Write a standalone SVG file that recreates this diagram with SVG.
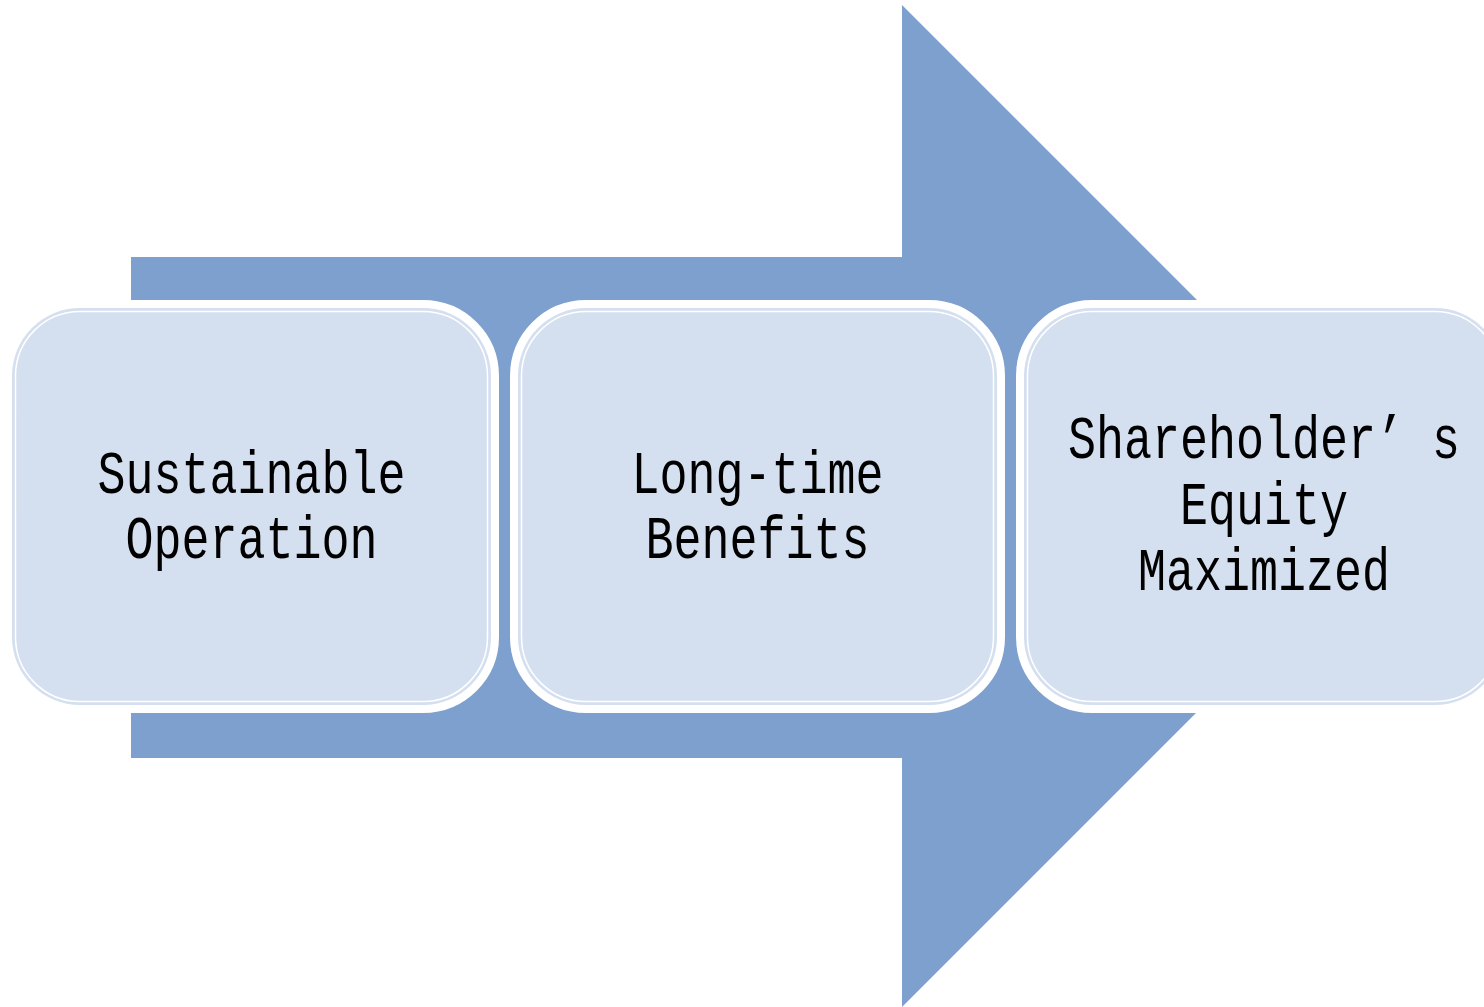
<svg xmlns="http://www.w3.org/2000/svg" width="1484" height="1007" viewBox="0 0 1484 1007">
<style>
.box{fill:#D4DFEF;stroke:#FFFFFF;stroke-width:16;paint-order:stroke}
.inner{fill:none;stroke:#FFFFFF;stroke-width:1.5}
.lbl{font-family:"Liberation Mono","DejaVu Sans Mono",monospace;font-size:62px;fill:#000000;text-anchor:middle}
</style>
<rect width="1484" height="1007" fill="#FFFFFF"/>
<g id="connectors">
<polygon points="131,257 902,257 902,5 1403,506 902,1007 902,758 131,758" fill="#7EA0CF"/>
</g>
<g id="node1">
<rect class="box" x="12" y="308" width="479" height="397" rx="68" ry="68"/>
<rect class="inner" x="15.5" y="311.5" width="472" height="390" rx="64.5" ry="64.5"/>
<text class="lbl" transform="translate(251.5,493) scale(0.7527,1)">Sustainable</text>
<text class="lbl" transform="translate(251.5,558) scale(0.7527,1)">Operation</text>
</g>
<g id="node2">
<rect class="box" x="518" y="308" width="479" height="397" rx="68" ry="68"/>
<rect class="inner" x="521.5" y="311.5" width="472" height="390" rx="64.5" ry="64.5"/>
<text class="lbl" transform="translate(757.5,493) scale(0.7527,1)">Long-time</text>
<text class="lbl" transform="translate(757.5,558) scale(0.7527,1)">Benefits</text>
</g>
<g id="node3">
<rect class="box" x="1024" y="308" width="479" height="397" rx="68" ry="68"/>
<rect class="inner" x="1027.5" y="311.5" width="472" height="390" rx="64.5" ry="64.5"/>
<text class="lbl" transform="translate(1264,458) scale(0.7527,1)">Shareholder’ s</text>
<text class="lbl" transform="translate(1264,524) scale(0.7527,1)">Equity</text>
<text class="lbl" transform="translate(1264,590) scale(0.7527,1)">Maximized</text>
</g>
</svg>
